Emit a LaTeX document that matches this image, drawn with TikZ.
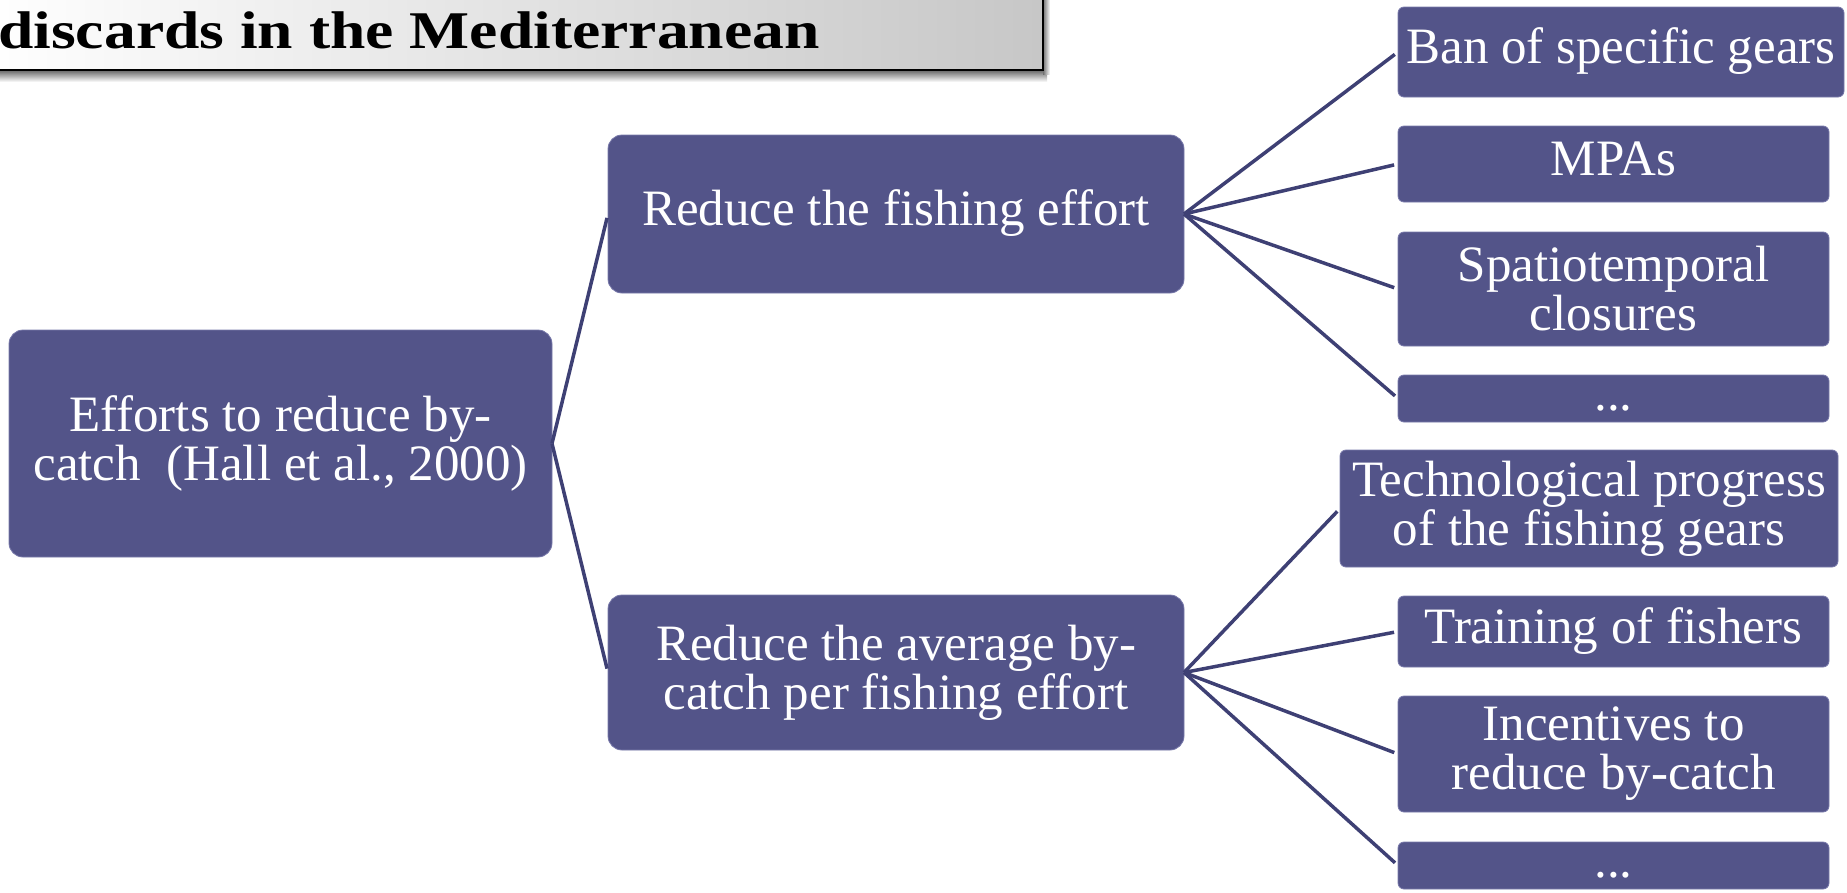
\documentclass[tikz,border=0pt]{standalone}
\usepackage{fontspec}
\setmainfont{Liberation Serif}
\newfontfamily\titlefont{Liberation Serif}[FakeStretch=1.2]
\usetikzlibrary{calc}
\definecolor{boxc}{RGB}{83,84,137}
\definecolor{boxedge}{RGB}{120,121,170}
\definecolor{linec}{RGB}{62,64,116}
\tikzset{
  box/.style={fill=boxc, draw=boxedge, line width=0.8pt, text=white, align=center,
    inner sep=0pt, outer sep=0pt, font=\fontsize{51}{49}\selectfont},
  oneline/.style={text height=35pt, text depth=12pt},
  bigbox/.style={box, rounded corners=14pt},
  smallbox/.style={box, rounded corners=6pt},
  link/.style={draw=linec, line width=3.5pt, shorten >=4pt}
}
\begin{document}
\begin{tikzpicture}[x=1pt,y=-1pt]
\useasboundingbox (0,0) rectangle (1847,892);

% title bar with shadow
\shade[top color=black!60, bottom color=white] (-20,70) rectangle (1047,82);
\shade[left color=black!55, right color=white] (1043,-20) rectangle (1050,74);
\node[draw=black, line width=2pt, left color=white, right color=black!22,
      minimum width=1063pt, minimum height=90pt, inner sep=0pt, outer sep=0pt]
      (titlebox) at (511.5,25) {};
\node[anchor=base west, inner sep=0pt, font=\titlefont\bfseries\fontsize{53}{53}\selectfont]
      (titletext) at (-2,48) {discards in the Mediterranean};

% boxes
\node[bigbox, minimum width=543pt, minimum height=227pt] (root) at (280.5,443.5)
  {Efforts to reduce by-\\catch~ (Hall et al., 2000)};
\node[bigbox, oneline, minimum width=576pt, minimum height=158pt] (m1) at (896,214)
  {Reduce the fishing effort};
\node[bigbox, minimum width=576pt, minimum height=155pt] (m2) at (896,672.5)
  {Reduce the average by-\\catch per fishing effort};

\node[smallbox, oneline, minimum width=446pt, minimum height=90pt] (ban) at (1621,52)
  {Ban of specific gears};
\node[smallbox, oneline, minimum width=431pt, minimum height=76pt] (mpa) at (1613.5,164)
  {MPAs};
\node[smallbox, minimum width=431pt, minimum height=114pt] (spt) at (1613.5,289)
  {Spatiotemporal\\closures};
\node[smallbox, oneline, minimum width=431pt, minimum height=47pt] (d1) at (1613.5,398.5)
  {...};
\node[smallbox, minimum width=498pt, minimum height=117pt] (tech) at (1589,508.5)
  {Technological progress\\of the fishing gears};
\node[smallbox, oneline, minimum width=431pt, minimum height=71pt] (train) at (1613.5,631.5)
  {Training of fishers};
\node[smallbox, minimum width=431pt, minimum height=116pt] (inc) at (1613.5,754)
  {Incentives to\\reduce by-catch};
\node[smallbox, oneline, minimum width=431pt, minimum height=47pt] (d2) at (1613.5,865.5)
  {...};

% connectors
\draw[link] (root.east) -- (m1.west);
\draw[link] (root.east) -- (m2.west);
\draw[link] (m1.east) -- (ban.west);
\draw[link] (m1.east) -- (mpa.west);
\draw[link] (m1.east) -- (spt.west);
\draw[link] (m1.east) -- (d1.west);
\draw[link] (m2.east) -- (tech.west);
\draw[link] (m2.east) -- (train.west);
\draw[link] (m2.east) -- (inc.west);
\draw[link] (m2.east) -- (d2.west);
\end{tikzpicture}
\end{document}
